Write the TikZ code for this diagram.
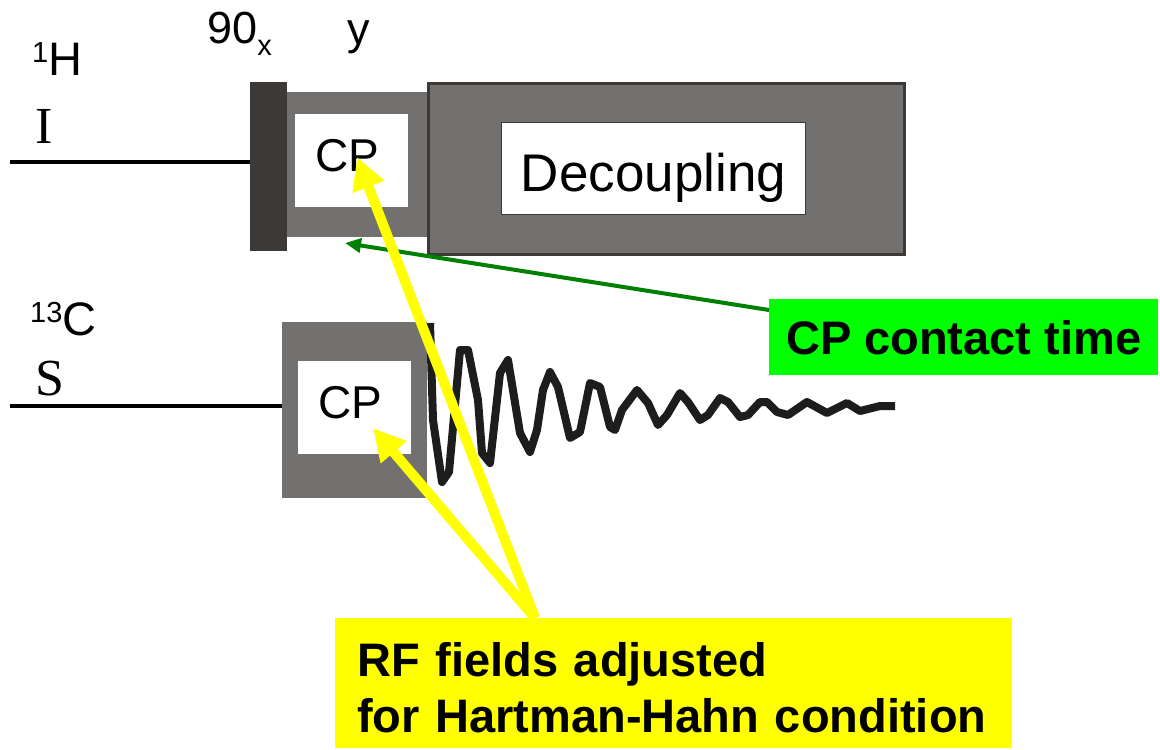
\documentclass[tikz,border=0pt]{standalone}
\usepackage{fontspec}
\setmainfont{Liberation Sans}
\newfontfamily\timesfont{Liberation Serif}
\usetikzlibrary{arrows.meta,positioning}
\definecolor{PulseGray}{RGB}{115,113,112}
\definecolor{PulseDark}{RGB}{61,57,54}
\definecolor{FidBlack}{RGB}{29,29,29}
\definecolor{ContactGreen}{RGB}{0,255,0}
\definecolor{ArrowGreen}{RGB}{0,128,0}
\definecolor{HHYellow}{RGB}{255,255,0}
\newcommand{\fsz}[1]{\fontsize{#1}{#1}\selectfont}
\newcommand{\wintext}[2]{\raisebox{-#1}[0pt][0pt]{\makebox[0pt]{#2\hspace{8pt}}}}

\begin{document}
\begin{tikzpicture}[x=1pt,y=-1pt,
  block/.style={fill=PulseGray,inner sep=0pt,anchor=north west},
  window/.style={fill=white,inner sep=0pt,anchor=north west,font=\fsz{46}},
  chanlabel/.style={inner sep=0pt,anchor=base west,font=\fsz{47}},
  rail/.style={line width=4pt},
  callout/.style={inner sep=0pt,anchor=north west,font=\fsz{47}\bfseries},
  hharrow/.style={HHYellow,line width=10pt,-{Triangle[length=32pt,width=32pt]}},
  ctarrow/.style={ArrowGreen,line width=4pt,-{Triangle[length=16pt,width=14pt]}}]
  \useasboundingbox (0,0) rectangle (1160,750);

  % proton channel
  \node[block,minimum width=145pt,minimum height=145pt] (cpI) at (282,92) {};
  \node[block,fill=PulseDark,minimum width=37pt,minimum height=169pt] (pulse90) at (250,82) {};
  \node[window,minimum width=113pt,minimum height=93pt] (cpwinI) at (295,114) {\wintext{10.5pt}{CP}};
  \node[block,draw=PulseDark,line width=3pt,minimum width=476pt,minimum height=171pt] (decoup) at (427,82) {};
  \node[window,draw=PulseDark,line width=1pt,minimum width=304pt,minimum height=92pt,font=\fsz{53}] (decwin) at (501,122)
    {\raisebox{-23pt}[0pt][0pt]{Decoupling}};
  \coordinate (railIstart) at (10,162);
  \draw[rail] (railIstart) -- (railIstart -| pulse90.west);
  \node[chanlabel] (labH) at (32,75) {\raisebox{13pt}{\fsz{29}1}H};
  \node[chanlabel,font=\fsz{52}\timesfont] (labI) at (35,143) {I};
  \node[chanlabel,font=\fsz{45}] (lab90) at (207,43) {90\raisebox{-12pt}{\fsz{29}x}};
  \node[chanlabel,font=\fsz{45}] (laby) at (347,44) {y};

  % carbon channel
  \node[block,minimum width=145pt,minimum height=176pt] (cpS) at (282,322) {};
  \node[window,minimum width=113pt,minimum height=93pt] (cpwinS) at (298,361) {\wintext{10.5pt}{CP}};
  \coordinate (railSstart) at (10,406);
  \draw[rail] (railSstart) -- (railSstart -| cpS.west);
  \node[chanlabel] (labC) at (30,335) {\raisebox{13pt}{\fsz{29}13}C};
  \node[chanlabel,font=\fsz{52}\timesfont] (labS) at (35,395) {S};

  % FID
  \draw[FidBlack,line width=8pt,line join=round] plot[sharp plot] coordinates {
    (430,323) (433,420) (442,482) (449,472) (460,350) (468,350) (478,400)
    (482,453) (490,463) (500,373) (508,360) (520,433) (530,452) (537,430)
    (543,390) (550,372) (558,387) (570,438) (580,432) (590,383) (600,387)
    (610,427) (615,430) (622,410) (637,390) (648,403) (658,425) (667,415)
    (680,393) (688,402) (700,420) (708,415) (720,398) (728,402) (740,417)
    (748,415) (760,402) (767,402) (777,412) (788,415) (807,402) (827,413)
    (847,403) (860,411) (880,406) (895,406)};

  % contact time
  \node[callout,fill=ContactGreen,minimum width=389pt,minimum height=76pt] (cpt) at (769,299) {CP contact time};
  \coordinate (ctTip) at (345,243);
  \draw[ctarrow] ([yshift=-11pt]cpt.north west) -- (ctTip);

  % Hartman-Hahn
  \node[callout,fill=HHYellow,minimum width=677pt,minimum height=130pt,
    align=left,text width=633pt,inner xsep=22pt,font=\fontsize{47}{56}\selectfont\bfseries] (hh) at (335,618)
    {\rule{0pt}{44pt}RF fields adjusted\\for Hartman-Hahn condition};
  \coordinate (hhTipI) at (357,157);
  \coordinate (hhTipS) at (373,428);
  \draw[hharrow] ([xshift=200pt]hh.north west) -- (hhTipI);
  \draw[hharrow] ([xshift=200pt]hh.north west) -- (hhTipS);
\end{tikzpicture}
\end{document}
